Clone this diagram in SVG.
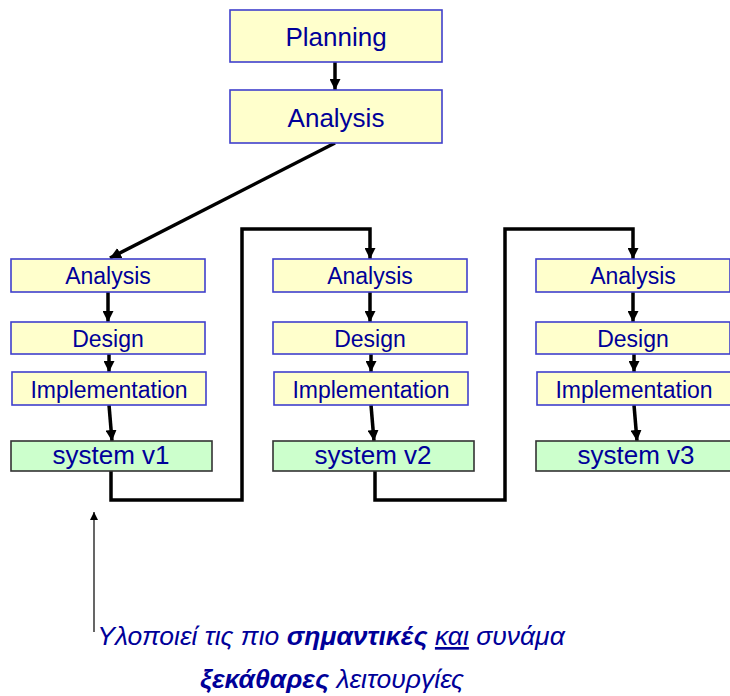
<svg xmlns="http://www.w3.org/2000/svg" width="730" height="696" viewBox="0 0 730 696">
  <style>
    .step rect { fill: #FFFFCC; stroke: #4040CC; stroke-width: 1.6; }
    .sys rect { fill: #CCFFCC; stroke: #333333; stroke-width: 1.6; }
    text { font-family: "Liberation Sans", Arial, sans-serif; fill: #000099; text-anchor: middle; }
    .big { font-size: 26px; }
    .small { font-size: 23px; }
    .flow { fill: none; stroke: #000000; stroke-width: 3.5; }
    .note { font-size: 26.5px; font-style: italic; }
  </style>
  <defs>
    <marker id="head" viewBox="0 0 10 10" refX="10" refY="5" markerWidth="11" markerHeight="11" markerUnits="userSpaceOnUse" orient="auto">
      <path d="M0,0 L10,5 L0,10 z" fill="#000000"/>
    </marker>
    <marker id="thinhead" viewBox="0 0 10 10" refX="10" refY="5" markerWidth="10" markerHeight="8" markerUnits="userSpaceOnUse" orient="auto">
      <path d="M0,0 L10,5 L0,10 z" fill="#000000"/>
    </marker>
  </defs>

  <!-- connectors -->
  <g id="connectors">
    <line class="flow" x1="335" y1="62" x2="335" y2="90" marker-end="url(#head)"/>
    <line class="flow" x1="335" y1="143" x2="110" y2="258" marker-end="url(#head)"/>
    <!-- column 1 -->
    <line class="flow" x1="108" y1="292" x2="108" y2="322" marker-end="url(#head)"/>
    <line class="flow" x1="109" y1="354" x2="109" y2="372" marker-end="url(#head)"/>
    <line class="flow" x1="109" y1="405" x2="112" y2="441" marker-end="url(#head)"/>
    <!-- column 2 -->
    <line class="flow" x1="370" y1="292" x2="370" y2="322" marker-end="url(#head)"/>
    <line class="flow" x1="371" y1="354" x2="371" y2="372" marker-end="url(#head)"/>
    <line class="flow" x1="371" y1="405" x2="374" y2="441" marker-end="url(#head)"/>
    <!-- column 3 -->
    <line class="flow" x1="633" y1="292" x2="633" y2="322" marker-end="url(#head)"/>
    <line class="flow" x1="634" y1="354" x2="634" y2="372" marker-end="url(#head)"/>
    <line class="flow" x1="634" y1="405" x2="637" y2="441" marker-end="url(#head)"/>
    <!-- iterations -->
    <polyline class="flow" points="111,471 111,500 242,500 242,229 370,229 370,259" marker-end="url(#head)"/>
    <polyline class="flow" points="375,471 375,500 505,500 505,229 633,229 633,259" marker-end="url(#head)"/>
    <!-- annotation pointer -->
    <line x1="94" y1="632" x2="94" y2="512" stroke="#000000" stroke-width="1.2" marker-end="url(#thinhead)"/>
  </g>

  <g id="planning" class="step">
    <rect x="230" y="10" width="212" height="52"/>
    <text class="big" x="336" y="46">Planning</text>
  </g>
  <g id="analysis" class="step">
    <rect x="230" y="90" width="212" height="53"/>
    <text class="big" x="336" y="127">Analysis</text>
  </g>

  <!-- iteration 1 -->
  <g id="analysis1" class="step">
    <rect x="11" y="259" width="194" height="33"/>
    <text class="small" x="108" y="284">Analysis</text>
  </g>
  <g id="design1" class="step">
    <rect x="11" y="322" width="194" height="32"/>
    <text class="small" x="108" y="347">Design</text>
  </g>
  <g id="impl1" class="step">
    <rect x="12" y="372" width="194" height="33"/>
    <text class="small" x="109" y="398">Implementation</text>
  </g>
  <g id="sys1" class="sys">
    <rect x="11" y="441" width="201" height="30"/>
    <text class="big" x="111" y="464">system v1</text>
  </g>

  <!-- iteration 2 -->
  <g id="analysis2" class="step">
    <rect x="273" y="259" width="194" height="33"/>
    <text class="small" x="370" y="284">Analysis</text>
  </g>
  <g id="design2" class="step">
    <rect x="273" y="322" width="194" height="32"/>
    <text class="small" x="370" y="347">Design</text>
  </g>
  <g id="impl2" class="step">
    <rect x="274" y="372" width="194" height="33"/>
    <text class="small" x="371" y="398">Implementation</text>
  </g>
  <g id="sys2" class="sys">
    <rect x="273" y="441" width="201" height="30"/>
    <text class="big" x="373" y="464">system v2</text>
  </g>

  <!-- iteration 3 -->
  <g id="analysis3" class="step">
    <rect x="536" y="259" width="194" height="33"/>
    <text class="small" x="633" y="284">Analysis</text>
  </g>
  <g id="design3" class="step">
    <rect x="536" y="322" width="194" height="32"/>
    <text class="small" x="633" y="347">Design</text>
  </g>
  <g id="impl3" class="step">
    <rect x="537" y="372" width="194" height="33"/>
    <text class="small" x="634" y="398">Implementation</text>
  </g>
  <g id="sys3" class="sys">
    <rect x="536" y="441" width="201" height="30"/>
    <text class="big" x="636" y="464">system v3</text>
  </g>

  <!-- annotation -->
  <g id="note">
    <text class="note" x="331" y="645">Υλοποιεί τις πιο <tspan font-weight="bold">σημαντικές</tspan> <tspan text-decoration="underline">και</tspan> συνάμα</text>
    <text class="note" x="332" y="688"><tspan font-weight="bold">ξεκάθαρες</tspan> λειτουργίες</text>
  </g>
</svg>
